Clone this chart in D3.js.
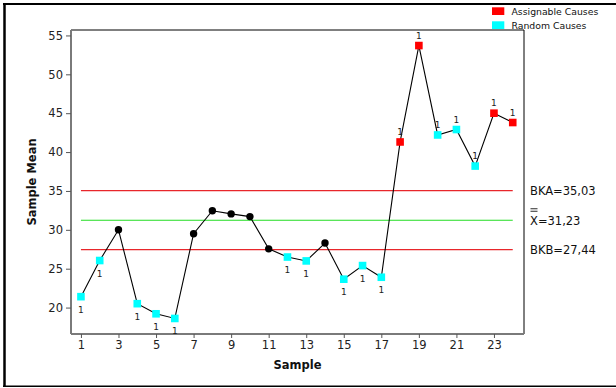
<!DOCTYPE html>
<html>
<head>
<meta charset="utf-8">
<script src="https://cdn.jsdelivr.net/npm/d3@7"></script>
<style>
  body { margin: 0; background: #fff; }
  svg { display: block; font-family: "DejaVu Sans", sans-serif; }
</style>
</head>
<body>
<svg id="chart" width="616" height="388"></svg>
<script>
// sample means
const samples = d3.range(1, 25);
const means = [21.4, 26.05, 30.0, 20.5, 19.2, 18.6, 29.5, 32.45, 32.05, 31.7, 27.55, 26.5,
               26.0, 28.3, 23.65, 25.4, 23.9, 41.3, 53.7, 42.2, 42.9, 38.2, 45.0, 43.8];
// "A" = assignable cause (red), "R" = random cause (cyan), "" = plain black dot
const causes = ["R", "R", "", "R", "R", "R", "", "", "", "", "", "R",
                "R", "", "R", "R", "R", "A", "A", "R", "R", "R", "A", "A"];
const limits = [
  { name: "BKA", value: 35.03, text: "BKA=35,03", color: "#e8262b" },
  { name: "X", value: 31.23, text: "X=31,23", color: "#22dd22" },
  { name: "BKB", value: 27.44, text: "BKB=27,44", color: "#e8262b" }
];
const xTicks = [1, 3, 5, 7, 9, 11, 13, 15, 17, 19, 21, 23];
const yTicks = [20, 25, 30, 35, 40, 45, 50, 55];
const legendItems = [
  { label: "Assignable Causes", color: "#ff0000" },
  { label: "Random Causes", color: "#00ffff" }
];

const colorOf = { A: "#ff0000", R: "#00ffff" };

const svg = d3.select("#chart");
const plotL = 71, plotR = 524, plotT = 30, plotB = 334;

const x = d3.scaleLinear().domain([0.47, 24.6]).range([plotL, plotR]);
const y = d3.scaleLinear().domain([16.6, 55.7]).range([plotB, plotT]);

// outer frame
svg.append("line").attr("x1", 4.5).attr("x2", 4.5).attr("y1", 3).attr("y2", 387)
  .attr("stroke", "#000").attr("stroke-width", 2.5);
svg.append("line").attr("x1", 3).attr("x2", 616).attr("y1", 4).attr("y2", 4)
  .attr("stroke", "#000").attr("stroke-width", 2);
svg.append("line").attr("x1", 3).attr("x2", 616).attr("y1", 386.3).attr("y2", 386.3)
  .attr("stroke", "#000").attr("stroke-width", 1.5);

// plot box: top and right black
svg.append("path")
  .attr("d", `M${plotL},${plotT}H${plotR}V${plotB}`)
  .attr("fill", "none").attr("stroke", "#000").attr("stroke-width", 1);

// axes
const xAxis = svg.append("g").attr("transform", `translate(0,${plotB})`)
  .call(d3.axisBottom(x).tickValues(xTicks).tickSize(4).tickPadding(3).tickSizeOuter(0));
const yAxis = svg.append("g").attr("transform", `translate(${plotL},0)`)
  .call(d3.axisLeft(y).tickValues(yTicks).tickSize(5).tickPadding(3).tickSizeOuter(0));

[xAxis, yAxis].forEach(function(g) {
  g.select(".domain").attr("stroke", "#7a7a7a").attr("stroke-width", 2);
  g.selectAll(".tick line").attr("stroke", "#555");
  g.selectAll(".tick text").attr("fill", "#222")
    .style("font-family", "DejaVu Sans").style("font-size", "11.5px");
});
xAxis.select(".domain").attr("d", `M${plotL},0H${plotR}`);
yAxis.select(".domain").attr("d", `M0,${plotB}V${plotT}`);

// axis titles
svg.append("text").attr("x", (plotL + plotR) / 2).attr("y", 369)
  .attr("text-anchor", "middle").style("font-size", "11.5px").style("font-weight", "bold")
  .attr("fill", "#111").text("Sample");
svg.append("text").attr("transform", `translate(36,${(plotT + plotB) / 2}) rotate(-90)`)
  .attr("text-anchor", "middle").style("font-size", "11.5px").style("font-weight", "bold")
  .attr("fill", "#111").text("Sample Mean");

// control limit lines
svg.append("g").selectAll("line").data(limits).join("line")
  .attr("x1", x(1)).attr("x2", x(24))
  .attr("y1", d => y(d.value)).attr("y2", d => y(d.value))
  .attr("stroke", d => d.color).attr("stroke-width", 1.2);

// limit labels
svg.append("g").selectAll("text").data(limits).join("text")
  .attr("x", 530).attr("y", d => y(d.value) + 4.5)
  .style("font-size", "11.5px").attr("fill", "#111")
  .text(d => d.text);

// double bar over the X
const xLab = limits[1];
[0, 2.5].forEach(function(off) {
  svg.append("line")
    .attr("x1", 530.5).attr("x2", 537.5)
    .attr("y1", y(xLab.value) - 11.5 + off).attr("y2", y(xLab.value) - 11.5 + off)
    .attr("stroke", "#111").attr("stroke-width", 0.9);
});

// data line
const points = samples.map((s, i) => ({ s: s, v: means[i], c: causes[i] }));
svg.append("path").datum(points)
  .attr("fill", "none").attr("stroke", "#000").attr("stroke-width", 1.1)
  .attr("d", d3.line().x(d => x(d.s)).y(d => y(d.v)));

// plain dots
svg.append("g").selectAll("circle").data(points.filter(d => d.c === "")).join("circle")
  .attr("cx", d => x(d.s)).attr("cy", d => y(d.v)).attr("r", 3.7).attr("fill", "#000");

// flagged squares
svg.append("g").selectAll("rect").data(points.filter(d => d.c !== "")).join("rect")
  .attr("x", d => x(d.s) - 3.8).attr("y", d => y(d.v) - 3.8)
  .attr("width", 7.6).attr("height", 7.6)
  .attr("fill", d => colorOf[d.c]);

// "1" flags: below the point when under the center line, above otherwise
svg.append("g").selectAll("text").data(points.filter(d => d.c !== "")).join("text")
  .attr("x", d => x(d.s))
  .attr("y", d => d.v < xLab.value ? y(d.v) + 16 : y(d.v) - 7)
  .attr("text-anchor", "middle").style("font-size", "9px").attr("fill", "#222")
  .text("1");

// legend
const legend = svg.append("g").selectAll("g").data(legendItems).join("g")
  .attr("transform", (d, i) => `translate(492,${7.3 + i * 14})`);
legend.append("rect").attr("width", 12.3).attr("height", 7.7).attr("fill", d => d.color);
legend.append("text").attr("x", 19.5).attr("y", 7.5)
  .style("font-size", "9.3px").attr("fill", "#111").text(d => d.label);
</script>
</body>
</html>
